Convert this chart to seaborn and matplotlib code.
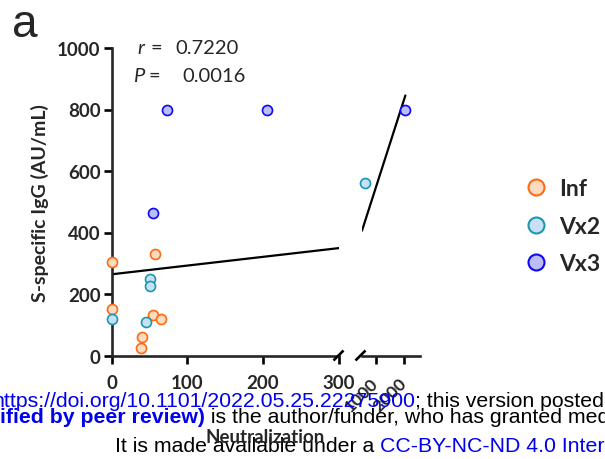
import matplotlib
matplotlib.use("Agg")
import matplotlib.pyplot as plt
from matplotlib.lines import Line2D
from matplotlib.transforms import ScaledTranslation
import numpy as np
import pandas as pd
import seaborn as sns

# Neutralization vs S-specific IgG, by cohort
group = ["Inf"] * 7 + ["Vx2"] * 5 + ["Vx3"] * 4
neut = [0, 0, 58, 55, 65, 40, 39,
        0, 51, 51, 46, 607,
        55, 73, 205, 2048]
igg = [305, 151, 329, 133, 119, 59, 24,
       119, 249, 225, 110, 560,
       463, 800, 800, 800]

# linear fit shown on the plot
fit_intercept = 264.0
fit_slope = 0.284

r_text = "0.7220"
p_text = "0.0016"

groups = ["Inf", "Vx2", "Vx3"]
face = {"Inf": "#FDDBBF", "Vx2": "#C8E0F4", "Vx3": "#BCBCF7"}
edge = {"Inf": "#FF6A13", "Vx2": "#1B97AE", "Vx3": "#0A0AF5"}

y_ticks = [0, 200, 400, 600, 800, 1000]
left_ticks = [0, 100, 200, 300]
right_ticks = [1000, 2000]
left_range = (0, 300)
right_range = (500, 2570)

df = pd.DataFrame({"group": group, "neut": neut, "igg": igg})

sns.set_style("ticks")
plt.rcParams["font.family"] = ["Lato", "DejaVu Sans"]

W, H = 605, 460
fig = plt.figure(figsize=(W / 100, H / 100), dpi=100)


def fx(x):
    return x / W


def fy(y):
    return 1 - y / H


bottom = fy(356.5)
height = (356.5 - 49) / H
axL = fig.add_axes([fx(111.5), bottom, (338.7 - 111.5) / W, height])
axR = fig.add_axes([fx(362), bottom, (420 - 362) / W, height])

lw_spine = 1.9
tick_size = 13.5
for ax, rng in ((axL, left_range), (axR, right_range)):
    sub = df[(df.neut >= rng[0]) & (df.neut <= rng[1])]
    for g in groups:
        d = sub[sub.group == g]
        sns.scatterplot(data=d, x="neut", y="igg", ax=ax, s=52,
                        color=face[g], edgecolor=edge[g], linewidth=1.2,
                        legend=False, clip_on=False, zorder=3)
    x0 = rng[0]
    x1 = min(rng[1], df.neut.max())
    xx = np.array([x0, x1])
    sns.lineplot(x=xx, y=fit_intercept + fit_slope * xx, ax=ax,
                 color="black", linewidth=1.6, zorder=2)
    ax.set_xlim(*rng)
    ax.set_ylim(0, 1000)
    ax.set_xlabel("")
    ax.set_ylabel("")
    for s in ("top", "right"):
        ax.spines[s].set_visible(False)
    for s in ("left", "bottom"):
        ax.spines[s].set_linewidth(lw_spine)
    ax.tick_params(width=lw_spine, length=5.5, labelsize=tick_size, pad=2.5,
                   color="black")
    ax.patch.set_alpha(0)

axL.set_xticks(left_ticks)
axL.set_xticklabels([str(t) for t in left_ticks], fontweight="bold")
axL.set_yticks(y_ticks)
axL.set_yticklabels([str(t) for t in y_ticks], fontweight="bold")
axL.tick_params(axis="x", pad=8)

axR.spines["left"].set_visible(False)
axR.set_yticks([])
axR.set_xticks(right_ticks)
axR.set_xticklabels([str(t) for t in right_ticks], fontweight="bold",
                    rotation=45, ha="right", va="top", fontsize=12.5)
axR.tick_params(axis="x", pad=8)
shift = ScaledTranslation(4 / 72, 0, fig.dpi_scale_trans)
for lbl in axR.get_xticklabels():
    lbl.set_transform(lbl.get_transform() + shift)

# break marks on the x axis
for xc in (338.5, 360.5):
    fig.add_artist(Line2D([fx(xc - 5), fx(xc + 5)], [fy(361.5), fy(351.5)],
                          color="black", linewidth=lw_spine,
                          solid_capstyle="butt"))

fig.text(fx(40), fy(203), "S-specific IgG (AU/mL)", rotation=90,
         ha="center", va="center", fontsize=14, fontweight="bold")

# correlation statistics
stat_size = 14.5
fig.text(fx(137), fy(54), "r", style="italic", fontsize=stat_size, va="baseline")
fig.text(fx(151), fy(54), "=", fontsize=stat_size, va="baseline")
fig.text(fx(175), fy(54), r_text, fontsize=stat_size, va="baseline")
fig.text(fx(133), fy(82), "P", style="italic", fontsize=stat_size, va="baseline")
fig.text(fx(149), fy(82), "=", fontsize=stat_size, va="baseline")
fig.text(fx(182), fy(82), p_text, fontsize=stat_size, va="baseline")

fig.text(fx(12), fy(37), "a", fontsize=33, family="Liberation Sans",
         va="baseline")

# legend
handles = [Line2D([], [], marker="o", linestyle="", markersize=11.5,
                  markerfacecolor=face[g], markeredgecolor=edge[g],
                  markeredgewidth=1.5) for g in groups]
fig.legend(handles, groups, loc="upper left",
           bbox_to_anchor=(fx(511), fy(168)), frameon=False,
           prop={"family": "Lato", "weight": "bold", "size": 16.5},
           handletextpad=0.4, labelspacing=0.71, borderpad=0,
           handlelength=1.2)

# preprint notice, each line built from consecutive pieces
wm_size = 15.3
blue = "#0000EE"


def notice_line(pieces, x, y):
    first_text, first_color, first_weight = pieces[0]
    prev = fig.text(fx(x), fy(y), first_text, color=first_color,
                    fontweight=first_weight, family="Liberation Sans",
                    fontsize=wm_size, va="baseline")
    for text, color, weight in pieces[1:]:
        prev = fig.add_artist(matplotlib.text.Annotation(
            text, xy=(1, 0), xycoords=prev, va="bottom", ha="left",
            color=color, fontweight=weight, family="Liberation Sans",
            fontsize=wm_size))


notice_line([("https://doi.org/10.1101/2022.05.25.22275900", blue, "normal"),
             ("; this version posted May 27, 2022.", "black", "normal")],
            -8, 407)
notice_line([("ified by peer review)", blue, "bold"),
             (" is the author/funder, who has granted medRxiv", "black",
              "normal")], 0, 423)
notice_line([("It is made available under a ", "black", "normal"),
             ("CC-BY-NC-ND 4.0 International license", blue, "normal")],
            115, 452)

fig.text(fx(265.5), fy(443), "Neutralization", ha="center", va="baseline",
         fontsize=13.5, fontweight="bold", zorder=5)

fig.savefig("out.png", dpi=100)
